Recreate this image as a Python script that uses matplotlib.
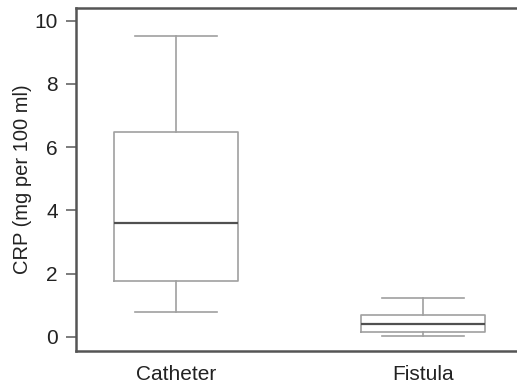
import matplotlib
matplotlib.use('Agg')
import matplotlib.pyplot as plt

groups = ['Catheter', 'Fistula']
# box stats: whislo, q1, med, q3, whishi
whislo = [0.78, 0.03]
q1 = [1.77, 0.16]
med = [3.61, 0.41]
q3 = [6.49, 0.70]
whishi = [9.52, 1.24]
yticks = [0, 2, 4, 6, 8, 10]

plt.rcParams['font.family'] = ['Liberation Sans', 'DejaVu Sans']

stats = []
for i in range(len(groups)):
    stats.append({'label': groups[i], 'whislo': whislo[i], 'q1': q1[i],
                  'med': med[i], 'q3': q3[i], 'whishi': whishi[i], 'fliers': []})

fig = plt.figure(figsize=(5.17, 3.86), dpi=100)
ax = fig.add_axes([0.147, 0.091, 0.853, 0.887])
box_c = '#a0a0a0'
ax.bxp(stats, positions=[1, 2], widths=0.5, capwidths=0.33, showfliers=False,
       boxprops=dict(color=box_c, linewidth=1.2),
       whiskerprops=dict(color=box_c, linewidth=1.2),
       capprops=dict(color=box_c, linewidth=1.2),
       medianprops=dict(color='#505050', linewidth=1.6))
ax.set_xlim(0.595, 2.38)
ax.set_ylim(-0.44, 10.38)
ax.set_yticks(yticks)
ax.set_ylabel('CRP (mg per 100 ml)', fontsize=14.5, color='#222222', labelpad=2)
ax.spines['right'].set_visible(False)
for s in ['left', 'bottom', 'top']:
    ax.spines[s].set_color('#555555')
    ax.spines[s].set_linewidth(1.8)
ax.tick_params(axis='y', length=7, width=1.2, color='#666666', labelsize=15,
               labelcolor='#222222', pad=6)
ax.tick_params(axis='x', length=0, labelsize=15, labelcolor='#222222', pad=10)
fig.savefig('out.png', dpi=100)
